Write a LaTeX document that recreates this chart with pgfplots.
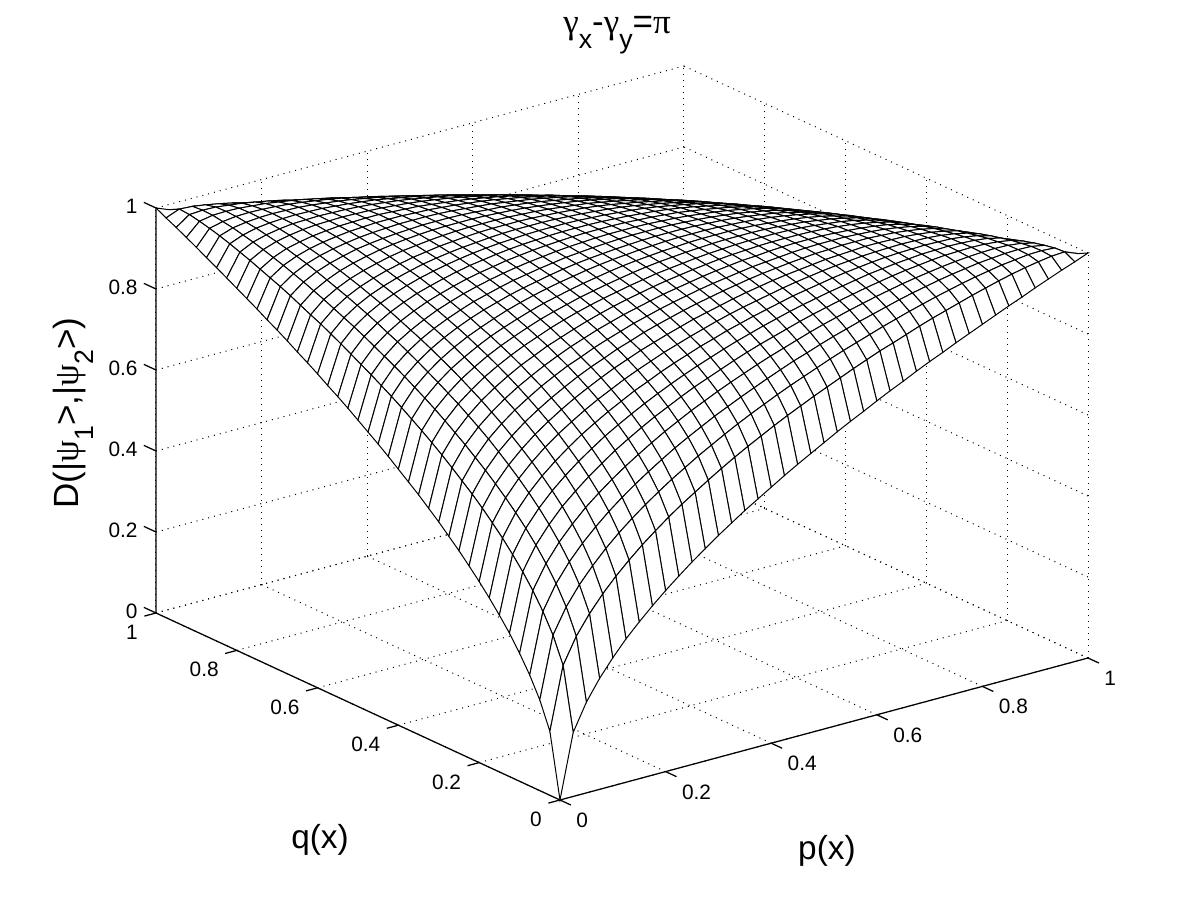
\documentclass[border=0pt]{standalone}
\usepackage{fontspec}
\setmainfont{Liberation Sans}
\newfontfamily\sym{Liberation Serif}
\usepackage{pgfplots}
\pgfplotsset{compat=1.18}
\newcommand{\lowsub}[1]{\raisebox{-9.5pt}{\fontsize{16}{16}\selectfont #1}}
\begin{document}
\begin{tikzpicture}[line width=0.6pt]
\path[use as bounding box] (-336pt,-60pt) rectangle (384pt,480pt);
\begin{axis}[
  at={(0pt,0pt)},anchor=origin,
  x={(7.92pt,2.13pt)},y={(-6.06pt,2.805pt)},z={(0pt,243pt)},
  xmin=0,xmax=40,ymin=0,ymax=40,zmin=0,zmax=1,
  xtick={0,8,...,40},ytick={0,8,...,40},ztick={0,0.2,0.4,0.6,0.8,1},
  xticklabels={0,0.2,0.4,0.6,0.8,1},yticklabels={0,0.2,0.4,0.6,0.8,1},zticklabels={0,0.2,0.4,0.6,0.8,1},
  grid=major,grid style={black,line width=0.6pt,dash pattern=on 0.6pt off 3pt},
  axis line style={draw=none},
  tick style={draw=none},tick align=outside,major tick length=7pt,
  ticklabel style={font=\fontsize{12.5}{14}\selectfont},
  xticklabel style={anchor=west,xshift=0pt,yshift=-9.2pt},
  yticklabel style={anchor=east,xshift=-0.6pt,yshift=-9.8pt},
  zticklabel style={anchor=east,xshift=-1.2pt,yshift=-2pt},
  clip=false,
  title={{\sym γ}\lowsub{x}-{\sym γ}\lowsub{y}={\sym π}},
  title style={at={(axis cs:82.12,101.68,0)},anchor=base,yshift=-6pt,font=\fontsize{21}{24}\selectfont},
  xlabel={p(x)},ylabel={q(x)},
  zlabel={D(|{\sym ψ}\lowsub{1}>,|{\sym ψ}\lowsub{2}>)},
  every axis x label/.style={at={(axis cs:7.52,-16.6,0)},anchor=center,font=\fontsize{20}{24}\selectfont},
  every axis y label/.style={at={(axis cs:-15.64,3.32,0)},anchor=center,font=\fontsize{20}{24}\selectfont},
  every axis z label/.style={at={(axis cs:0,47.72,.405)},anchor=base,rotate=90,font=\fontsize{21}{24}\selectfont},
]
\addplot3[black,forget plot,line width=0.75pt] coordinates {(0,40,1)(0,40,0)(0,0,0)(40,0,0)};
\draw[black,line width=0.75pt]
  (axis cs:0,0,0)--(axis cs:0,-1.08,0) (axis cs:8,0,0)--(axis cs:8,-1.08,0) (axis cs:16,0,0)--(axis cs:16,-1.08,0)
  (axis cs:24,0,0)--(axis cs:24,-1.08,0) (axis cs:32,0,0)--(axis cs:32,-1.08,0) (axis cs:40,0,0)--(axis cs:40,-1.08,0)
  (axis cs:0,0,0)--(axis cs:-.88,0,0) (axis cs:0,8,0)--(axis cs:-.88,8,0) (axis cs:0,16,0)--(axis cs:-.88,16,0)
  (axis cs:0,24,0)--(axis cs:-.88,24,0) (axis cs:0,32,0)--(axis cs:-.88,32,0) (axis cs:0,40,0)--(axis cs:-.88,40,0)
  (axis cs:0,40,0)--(axis cs:0,41.2,0) (axis cs:0,40,.2)--(axis cs:0,41.2,.2) (axis cs:0,40,.4)--(axis cs:0,41.2,.4)
  (axis cs:0,40,.6)--(axis cs:0,41.2,.6) (axis cs:0,40,.8)--(axis cs:0,41.2,.8) (axis cs:0,40,1)--(axis cs:0,41.2,1);
\addplot3[surf,mesh/cols=41,z buffer=none,shader=faceted,faceted color=black,
  colormap={w}{color=(white) color=(white)},line width=0.6pt] table[x=i,y=j,z=D] {
i j D
40 40 0
39 40 .158
38 40 .224
37 40 .274
36 40 .316
35 40 .354
34 40 .387
33 40 .418
32 40 .447
31 40 .474
30 40 .5
29 40 .524
28 40 .548
27 40 .57
26 40 .592
25 40 .612
24 40 .632
23 40 .652
22 40 .671
21 40 .689
20 40 .707
19 40 .725
18 40 .742
17 40 .758
16 40 .775
15 40 .791
14 40 .806
13 40 .822
12 40 .837
11 40 .851
10 40 .866
9 40 .88
8 40 .894
7 40 .908
6 40 .922
5 40 .935
4 40 .949
3 40 .962
2 40 .975
1 40 .987
0 40 1
40 39 .158
39 39 .312
38 39 .375
37 39 .422
36 39 .462
35 39 .497
34 39 .528
33 39 .557
32 39 .583
31 39 .608
30 39 .631
29 39 .652
28 39 .673
27 39 .693
26 39 .712
25 39 .73
24 39 .747
23 39 .764
22 39 .78
21 39 .795
20 39 .81
19 39 .824
18 39 .838
17 39 .852
16 39 .865
15 39 .878
14 39 .889
13 39 .901
12 39 .913
11 39 .924
10 39 .934
9 39 .944
8 39 .954
7 39 .963
6 39 .972
5 39 .98
4 39 .987
3 39 .993
2 39 .998
1 39 1
0 39 .987
40 38 .224
39 38 .375
38 38 .436
37 38 .482
36 38 .52
35 38 .554
34 38 .584
33 38 .611
32 38 .636
31 38 .659
30 38 .681
29 38 .701
28 38 .721
27 38 .739
26 38 .757
25 38 .774
24 38 .79
23 38 .805
22 38 .82
21 38 .834
20 38 .847
19 38 .86
18 38 .873
17 38 .885
16 38 .896
15 38 .907
14 38 .918
13 38 .928
12 38 .938
11 38 .947
10 38 .956
9 38 .964
8 38 .972
7 38 .979
6 38 .985
5 38 .991
4 38 .995
3 38 .999
2 38 1
1 38 .998
0 38 .975
40 37 .274
39 37 .422
38 37 .482
37 37 .527
36 37 .564
35 37 .596
34 37 .625
33 37 .651
32 37 .675
31 37 .697
30 37 .718
29 37 .738
28 37 .756
27 37 .773
26 37 .79
25 37 .805
24 37 .82
23 37 .834
22 37 .848
21 37 .861
20 37 .874
19 37 .885
18 37 .897
17 37 .908
16 37 .918
15 37 .928
14 37 .937
13 37 .946
12 37 .955
11 37 .963
10 37 .97
9 37 .977
8 37 .983
7 37 .988
6 37 .993
5 37 .996
4 37 .999
3 37 1
2 37 .999
1 37 .993
0 37 .962
40 36 .316
39 36 .462
38 36 .52
37 36 .564
36 36 .6
35 36 .632
34 36 .659
33 36 .684
32 36 .707
31 36 .728
30 36 .748
29 36 .767
28 36 .784
27 36 .801
26 36 .816
25 36 .831
24 36 .845
23 36 .858
22 36 .871
21 36 .883
20 36 .894
19 36 .905
18 36 .916
17 36 .926
16 36 .935
15 36 .944
14 36 .952
13 36 .96
12 36 .967
11 36 .974
10 36 .98
9 36 .985
8 36 .99
7 36 .994
6 36 .997
5 36 .999
4 36 1
3 36 .999
2 36 .995
1 36 .987
0 36 .949
40 35 .354
39 35 .497
38 35 .554
37 35 .596
36 35 .632
35 35 .661
34 35 .688
33 35 .712
32 35 .735
31 35 .755
30 35 .774
29 35 .792
28 35 .808
27 35 .824
26 35 .839
25 35 .852
24 35 .865
23 35 .878
22 35 .89
21 35 .901
20 35 .911
19 35 .921
18 35 .931
17 35 .94
16 35 .948
15 35 .956
14 35 .963
13 35 .97
12 35 .976
11 35 .982
10 35 .987
9 35 .991
8 35 .995
7 35 .998
6 35 .999
5 35 1
4 35 .999
3 35 .996
2 35 .991
1 35 .98
0 35 .935
40 34 .387
39 34 .528
38 34 .584
37 34 .625
36 34 .659
35 34 .688
34 34 .714
33 34 .737
32 34 .759
31 34 .778
30 34 .796
29 34 .813
28 34 .829
27 34 .844
26 34 .858
25 34 .871
24 34 .883
23 34 .895
22 34 .906
21 34 .916
20 34 .926
19 34 .935
18 34 .944
17 34 .952
16 34 .959
15 34 .966
14 34 .972
13 34 .978
12 34 .984
11 34 .988
10 34 .992
9 34 .995
8 34 .998
7 34 .999
6 34 1
5 34 .999
4 34 .997
3 34 .993
2 34 .985
1 34 .972
0 34 .922
40 33 .418
39 33 .557
38 33 .611
37 33 .651
36 33 .684
35 33 .712
34 33 .737
33 33 .76
32 33 .78
31 33 .799
30 33 .816
29 33 .833
28 33 .847
27 33 .862
26 33 .875
25 33 .887
24 33 .899
23 33 .909
22 33 .92
21 33 .929
20 33 .938
19 33 .946
18 33 .954
17 33 .962
16 33 .968
15 33 .974
14 33 .98
13 33 .985
12 33 .989
11 33 .993
10 33 .996
9 33 .998
8 33 .999
7 33 1
6 33 .999
5 33 .998
4 33 .994
3 33 .988
2 33 .979
1 33 .963
0 33 .908
40 32 .447
39 32 .583
38 32 .636
37 32 .675
36 32 .707
35 32 .735
34 32 .759
33 32 .78
32 32 .8
31 32 .818
30 32 .834
29 32 .85
28 32 .864
27 32 .877
26 32 .89
25 32 .901
24 32 .912
23 32 .922
22 32 .932
21 32 .941
20 32 .949
19 32 .956
18 32 .963
17 32 .97
16 32 .976
15 32 .981
14 32 .986
13 32 .99
12 32 .993
11 32 .996
10 32 .998
9 32 .999
8 32 1
7 32 .999
6 32 .998
5 32 .995
4 32 .99
3 32 .983
2 32 .972
1 32 .954
0 32 .894
40 31 .474
39 31 .608
38 31 .659
37 31 .697
36 31 .728
35 31 .755
34 31 .778
33 31 .799
32 31 .818
31 31 .835
30 31 .851
29 31 .866
28 31 .879
27 31 .892
26 31 .903
25 31 .914
24 31 .924
23 31 .934
22 31 .942
21 31 .95
20 31 .958
19 31 .965
18 31 .971
17 31 .977
16 31 .982
15 31 .986
14 31 .99
13 31 .994
12 31 .996
11 31 .998
10 31 1
9 31 1
8 31 .999
7 31 .998
6 31 .995
5 31 .991
4 31 .985
3 31 .977
2 31 .964
1 31 .944
0 31 .88
40 30 .5
39 30 .631
38 30 .681
37 30 .718
36 30 .748
35 30 .774
34 30 .796
33 30 .816
32 30 .834
31 30 .851
30 30 .866
29 30 .879
28 30 .893
27 30 .904
26 30 .916
25 30 .926
24 30 .935
23 30 .944
22 30 .952
21 30 .959
20 30 .966
19 30 .972
18 30 .978
17 30 .983
16 30 .987
15 30 .991
14 30 .994
13 30 .997
12 30 .998
11 30 1
10 30 1
9 30 1
8 30 .998
7 30 .996
6 30 .992
5 30 .987
4 30 .98
3 30 .97
2 30 .956
1 30 .934
0 30 .866
40 29 .524
39 29 .652
38 29 .701
37 29 .738
36 29 .767
35 29 .792
34 29 .813
33 29 .833
32 29 .85
31 29 .866
30 29 .879
29 29 .893
28 29 .905
27 29 .916
26 29 .927
25 29 .936
24 29 .945
23 29 .953
22 29 .96
21 29 .967
20 29 .973
19 29 .978
18 29 .983
17 29 .988
16 29 .991
15 29 .994
14 29 .997
13 29 .999
12 29 1
11 29 1
10 29 1
9 29 .998
8 29 .996
7 29 .993
6 29 .988
5 29 .982
4 29 .974
3 29 .963
2 29 .947
1 29 .924
0 29 .851
40 28 .548
39 28 .673
38 28 .721
37 28 .756
36 28 .784
35 28 .808
34 28 .829
33 28 .847
32 28 .864
31 28 .879
30 28 .893
29 28 .905
28 28 .917
27 28 .927
26 28 .937
25 28 .945
24 28 .953
23 28 .961
22 28 .967
21 28 .973
20 28 .979
19 28 .984
18 28 .988
17 28 .992
16 28 .994
15 28 .997
14 28 .999
13 28 1
12 28 1
11 28 1
10 28 .998
9 28 .996
8 28 .993
7 28 .989
6 28 .984
5 28 .976
4 28 .967
3 28 .955
2 28 .938
1 28 .913
0 28 .837
40 27 .57
39 27 .693
38 27 .739
37 27 .773
36 27 .801
35 27 .824
34 27 .844
33 27 .862
32 27 .877
31 27 .892
30 27 .904
29 27 .916
28 27 .927
27 27 .937
26 27 .946
25 27 .954
24 27 .961
23 27 .968
22 27 .974
21 27 .979
20 27 .984
19 27 .988
18 27 .992
17 27 .995
16 27 .997
15 27 .999
14 27 1
13 27 1
12 27 1
11 27 .999
10 27 .997
9 27 .994
8 27 .99
7 27 .985
6 27 .978
5 27 .97
4 27 .96
3 27 .946
2 27 .928
1 27 .901
0 27 .822
40 26 .592
39 26 .712
38 26 .757
37 26 .79
36 26 .816
35 26 .839
34 26 .858
33 26 .875
32 26 .89
31 26 .903
30 26 .916
29 26 .927
28 26 .937
27 26 .946
26 26 .954
25 26 .961
24 26 .968
23 26 .974
22 26 .98
21 26 .984
20 26 .988
19 26 .992
18 26 .995
17 26 .997
16 26 .999
15 26 1
14 26 1
13 26 1
12 26 .999
11 26 .997
10 26 .994
9 26 .99
8 26 .986
7 26 .98
6 26 .972
5 26 .963
4 26 .952
3 26 .937
2 26 .918
1 26 .889
0 26 .806
40 25 .612
39 25 .73
38 25 .774
37 25 .805
36 25 .831
35 25 .852
34 25 .871
33 25 .887
32 25 .901
31 25 .914
30 25 .926
29 25 .936
28 25 .945
27 25 .954
26 25 .961
25 25 .968
24 25 .974
23 25 .98
22 25 .985
21 25 .989
20 25 .992
19 25 .995
18 25 .997
17 25 .999
16 25 1
15 25 1
14 25 1
13 25 .999
12 25 .997
11 25 .994
10 25 .991
9 25 .986
8 25 .981
7 25 .974
6 25 .966
5 25 .956
4 25 .944
3 25 .928
2 25 .907
1 25 .878
0 25 .791
40 24 .632
39 24 .747
38 24 .79
37 24 .82
36 24 .845
35 24 .865
34 24 .883
33 24 .899
32 24 .912
31 24 .924
30 24 .935
29 24 .945
28 24 .953
27 24 .961
26 24 .968
25 24 .974
24 24 .98
23 24 .985
22 24 .989
21 24 .992
20 24 .995
19 24 .997
18 24 .999
17 24 1
16 24 1
15 24 1
14 24 .999
13 24 .997
12 24 .994
11 24 .991
10 24 .987
9 24 .982
8 24 .976
7 24 .968
6 24 .959
5 24 .948
4 24 .935
3 24 .918
2 24 .896
1 24 .865
0 24 .775
40 23 .652
39 23 .764
38 23 .805
37 23 .834
36 23 .858
35 23 .878
34 23 .895
33 23 .909
32 23 .922
31 23 .934
30 23 .944
29 23 .953
28 23 .961
27 23 .968
26 23 .974
25 23 .98
24 23 .985
23 23 .989
22 23 .992
21 23 .995
20 23 .997
19 23 .999
18 23 1
17 23 1
16 23 1
15 23 .999
14 23 .997
13 23 .995
12 23 .992
11 23 .988
10 23 .983
9 23 .977
8 23 .97
7 23 .962
6 23 .952
5 23 .94
4 23 .926
3 23 .908
2 23 .885
1 23 .852
0 23 .758
40 22 .671
39 22 .78
38 22 .82
37 22 .848
36 22 .871
35 22 .89
34 22 .906
33 22 .92
32 22 .932
31 22 .942
30 22 .952
29 22 .96
28 22 .967
27 22 .974
26 22 .98
25 22 .985
24 22 .989
23 22 .992
22 22 .995
21 22 .997
20 22 .999
19 22 1
18 22 1
17 22 1
16 22 .999
15 22 .997
14 22 .995
13 22 .992
12 22 .988
11 22 .983
10 22 .978
9 22 .971
8 22 .963
7 22 .954
6 22 .944
5 22 .931
4 22 .916
3 22 .897
2 22 .873
1 22 .838
0 22 .742
40 21 .689
39 21 .795
38 21 .834
37 21 .861
36 21 .883
35 21 .901
34 21 .916
33 21 .929
32 21 .941
31 21 .95
30 21 .959
29 21 .967
28 21 .973
27 21 .979
26 21 .984
25 21 .989
24 21 .992
23 21 .995
22 21 .997
21 21 .999
20 21 1
19 21 1
18 21 1
17 21 .999
16 21 .997
15 21 .995
14 21 .992
13 21 .988
12 21 .984
11 21 .978
10 21 .972
9 21 .965
8 21 .956
7 21 .946
6 21 .935
5 21 .921
4 21 .905
3 21 .885
2 21 .86
1 21 .824
0 21 .725
40 20 .707
39 20 .81
38 20 .847
37 20 .874
36 20 .894
35 20 .911
34 20 .926
33 20 .938
32 20 .949
31 20 .958
30 20 .966
29 20 .973
28 20 .979
27 20 .984
26 20 .988
25 20 .992
24 20 .995
23 20 .997
22 20 .999
21 20 1
20 20 1
19 20 1
18 20 .999
17 20 .997
16 20 .995
15 20 .992
14 20 .988
13 20 .984
12 20 .979
11 20 .973
10 20 .966
9 20 .958
8 20 .949
7 20 .938
6 20 .926
5 20 .911
4 20 .894
3 20 .874
2 20 .847
1 20 .81
0 20 .707
40 19 .725
39 19 .824
38 19 .86
37 19 .885
36 19 .905
35 19 .921
34 19 .935
33 19 .946
32 19 .956
31 19 .965
30 19 .972
29 19 .978
28 19 .984
27 19 .988
26 19 .992
25 19 .995
24 19 .997
23 19 .999
22 19 1
21 19 1
20 19 1
19 19 .999
18 19 .997
17 19 .995
16 19 .992
15 19 .989
14 19 .984
13 19 .979
12 19 .973
11 19 .967
10 19 .959
9 19 .95
8 19 .941
7 19 .929
6 19 .916
5 19 .901
4 19 .883
3 19 .861
2 19 .834
1 19 .795
0 19 .689
40 18 .742
39 18 .838
38 18 .873
37 18 .897
36 18 .916
35 18 .931
34 18 .944
33 18 .954
32 18 .963
31 18 .971
30 18 .978
29 18 .983
28 18 .988
27 18 .992
26 18 .995
25 18 .997
24 18 .999
23 18 1
22 18 1
21 18 1
20 18 .999
19 18 .997
18 18 .995
17 18 .992
16 18 .989
15 18 .985
14 18 .98
13 18 .974
12 18 .967
11 18 .96
10 18 .952
9 18 .942
8 18 .932
7 18 .92
6 18 .906
5 18 .89
4 18 .871
3 18 .848
2 18 .82
1 18 .78
0 18 .671
40 17 .758
39 17 .852
38 17 .885
37 17 .908
36 17 .926
35 17 .94
34 17 .952
33 17 .962
32 17 .97
31 17 .977
30 17 .983
29 17 .988
28 17 .992
27 17 .995
26 17 .997
25 17 .999
24 17 1
23 17 1
22 17 1
21 17 .999
20 17 .997
19 17 .995
18 17 .992
17 17 .989
16 17 .985
15 17 .98
14 17 .974
13 17 .968
12 17 .961
11 17 .953
10 17 .944
9 17 .934
8 17 .922
7 17 .909
6 17 .895
5 17 .878
4 17 .858
3 17 .834
2 17 .805
1 17 .764
0 17 .652
40 16 .775
39 16 .865
38 16 .896
37 16 .918
36 16 .935
35 16 .948
34 16 .959
33 16 .968
32 16 .976
31 16 .982
30 16 .987
29 16 .991
28 16 .994
27 16 .997
26 16 .999
25 16 1
24 16 1
23 16 1
22 16 .999
21 16 .997
20 16 .995
19 16 .992
18 16 .989
17 16 .985
16 16 .98
15 16 .974
14 16 .968
13 16 .961
12 16 .953
11 16 .945
10 16 .935
9 16 .924
8 16 .912
7 16 .899
6 16 .883
5 16 .865
4 16 .845
3 16 .82
2 16 .79
1 16 .747
0 16 .632
40 15 .791
39 15 .878
38 15 .907
37 15 .928
36 15 .944
35 15 .956
34 15 .966
33 15 .974
32 15 .981
31 15 .986
30 15 .991
29 15 .994
28 15 .997
27 15 .999
26 15 1
25 15 1
24 15 1
23 15 .999
22 15 .997
21 15 .995
20 15 .992
19 15 .989
18 15 .985
17 15 .98
16 15 .974
15 15 .968
14 15 .961
13 15 .954
12 15 .945
11 15 .936
10 15 .926
9 15 .914
8 15 .901
7 15 .887
6 15 .871
5 15 .852
4 15 .831
3 15 .805
2 15 .774
1 15 .73
0 15 .612
40 14 .806
39 14 .889
38 14 .918
37 14 .937
36 14 .952
35 14 .963
34 14 .972
33 14 .98
32 14 .986
31 14 .99
30 14 .994
29 14 .997
28 14 .999
27 14 1
26 14 1
25 14 1
24 14 .999
23 14 .997
22 14 .995
21 14 .992
20 14 .988
19 14 .984
18 14 .98
17 14 .974
16 14 .968
15 14 .961
14 14 .954
13 14 .946
12 14 .937
11 14 .927
10 14 .916
9 14 .903
8 14 .89
7 14 .875
6 14 .858
5 14 .839
4 14 .816
3 14 .79
2 14 .757
1 14 .712
0 14 .592
40 13 .822
39 13 .901
38 13 .928
37 13 .946
36 13 .96
35 13 .97
34 13 .978
33 13 .985
32 13 .99
31 13 .994
30 13 .997
29 13 .999
28 13 1
27 13 1
26 13 1
25 13 .999
24 13 .997
23 13 .995
22 13 .992
21 13 .988
20 13 .984
19 13 .979
18 13 .974
17 13 .968
16 13 .961
15 13 .954
14 13 .946
13 13 .937
12 13 .927
11 13 .916
10 13 .904
9 13 .892
8 13 .877
7 13 .862
6 13 .844
5 13 .824
4 13 .801
3 13 .773
2 13 .739
1 13 .693
0 13 .57
40 12 .837
39 12 .913
38 12 .938
37 12 .955
36 12 .967
35 12 .976
34 12 .984
33 12 .989
32 12 .993
31 12 .996
30 12 .998
29 12 1
28 12 1
27 12 1
26 12 .999
25 12 .997
24 12 .994
23 12 .992
22 12 .988
21 12 .984
20 12 .979
19 12 .973
18 12 .967
17 12 .961
16 12 .953
15 12 .945
14 12 .937
13 12 .927
12 12 .917
11 12 .905
10 12 .893
9 12 .879
8 12 .864
7 12 .847
6 12 .829
5 12 .808
4 12 .784
3 12 .756
2 12 .721
1 12 .673
0 12 .548
40 11 .851
39 11 .924
38 11 .947
37 11 .963
36 11 .974
35 11 .982
34 11 .988
33 11 .993
32 11 .996
31 11 .998
30 11 1
29 11 1
28 11 1
27 11 .999
26 11 .997
25 11 .994
24 11 .991
23 11 .988
22 11 .983
21 11 .978
20 11 .973
19 11 .967
18 11 .96
17 11 .953
16 11 .945
15 11 .936
14 11 .927
13 11 .916
12 11 .905
11 11 .893
10 11 .879
9 11 .866
8 11 .85
7 11 .833
6 11 .813
5 11 .792
4 11 .767
3 11 .738
2 11 .701
1 11 .652
0 11 .524
40 10 .866
39 10 .934
38 10 .956
37 10 .97
36 10 .98
35 10 .987
34 10 .992
33 10 .996
32 10 .998
31 10 1
30 10 1
29 10 1
28 10 .998
27 10 .997
26 10 .994
25 10 .991
24 10 .987
23 10 .983
22 10 .978
21 10 .972
20 10 .966
19 10 .959
18 10 .952
17 10 .944
16 10 .935
15 10 .926
14 10 .916
13 10 .904
12 10 .893
11 10 .879
10 10 .866
9 10 .851
8 10 .834
7 10 .816
6 10 .796
5 10 .774
4 10 .748
3 10 .718
2 10 .681
1 10 .631
0 10 .5
40 9 .88
39 9 .944
38 9 .964
37 9 .977
36 9 .985
35 9 .991
34 9 .995
33 9 .998
32 9 .999
31 9 1
30 9 1
29 9 .998
28 9 .996
27 9 .994
26 9 .99
25 9 .986
24 9 .982
23 9 .977
22 9 .971
21 9 .965
20 9 .958
19 9 .95
18 9 .942
17 9 .934
16 9 .924
15 9 .914
14 9 .903
13 9 .892
12 9 .879
11 9 .866
10 9 .851
9 9 .835
8 9 .818
7 9 .799
6 9 .778
5 9 .755
4 9 .728
3 9 .697
2 9 .659
1 9 .608
0 9 .474
40 8 .894
39 8 .954
38 8 .972
37 8 .983
36 8 .99
35 8 .995
34 8 .998
33 8 .999
32 8 1
31 8 .999
30 8 .998
29 8 .996
28 8 .993
27 8 .99
26 8 .986
25 8 .981
24 8 .976
23 8 .97
22 8 .963
21 8 .956
20 8 .949
19 8 .941
18 8 .932
17 8 .922
16 8 .912
15 8 .901
14 8 .89
13 8 .877
12 8 .864
11 8 .85
10 8 .834
9 8 .818
8 8 .8
7 8 .78
6 8 .759
5 8 .735
4 8 .707
3 8 .675
2 8 .636
1 8 .583
0 8 .447
40 7 .908
39 7 .963
38 7 .979
37 7 .988
36 7 .994
35 7 .998
34 7 .999
33 7 1
32 7 .999
31 7 .998
30 7 .996
29 7 .993
28 7 .989
27 7 .985
26 7 .98
25 7 .974
24 7 .968
23 7 .962
22 7 .954
21 7 .946
20 7 .938
19 7 .929
18 7 .92
17 7 .909
16 7 .899
15 7 .887
14 7 .875
13 7 .862
12 7 .847
11 7 .833
10 7 .816
9 7 .799
8 7 .78
7 7 .76
6 7 .737
5 7 .712
4 7 .684
3 7 .651
2 7 .611
1 7 .557
0 7 .418
40 6 .922
39 6 .972
38 6 .985
37 6 .993
36 6 .997
35 6 .999
34 6 1
33 6 .999
32 6 .998
31 6 .995
30 6 .992
29 6 .988
28 6 .984
27 6 .978
26 6 .972
25 6 .966
24 6 .959
23 6 .952
22 6 .944
21 6 .935
20 6 .926
19 6 .916
18 6 .906
17 6 .895
16 6 .883
15 6 .871
14 6 .858
13 6 .844
12 6 .829
11 6 .813
10 6 .796
9 6 .778
8 6 .759
7 6 .737
6 6 .714
5 6 .688
4 6 .659
3 6 .625
2 6 .584
1 6 .528
0 6 .387
40 5 .935
39 5 .98
38 5 .991
37 5 .996
36 5 .999
35 5 1
34 5 .999
33 5 .998
32 5 .995
31 5 .991
30 5 .987
29 5 .982
28 5 .976
27 5 .97
26 5 .963
25 5 .956
24 5 .948
23 5 .94
22 5 .931
21 5 .921
20 5 .911
19 5 .901
18 5 .89
17 5 .878
16 5 .865
15 5 .852
14 5 .839
13 5 .824
12 5 .808
11 5 .792
10 5 .774
9 5 .755
8 5 .735
7 5 .712
6 5 .688
5 5 .661
4 5 .632
3 5 .596
2 5 .554
1 5 .497
0 5 .354
40 4 .949
39 4 .987
38 4 .995
37 4 .999
36 4 1
35 4 .999
34 4 .997
33 4 .994
32 4 .99
31 4 .985
30 4 .98
29 4 .974
28 4 .967
27 4 .96
26 4 .952
25 4 .944
24 4 .935
23 4 .926
22 4 .916
21 4 .905
20 4 .894
19 4 .883
18 4 .871
17 4 .858
16 4 .845
15 4 .831
14 4 .816
13 4 .801
12 4 .784
11 4 .767
10 4 .748
9 4 .728
8 4 .707
7 4 .684
6 4 .659
5 4 .632
4 4 .6
3 4 .564
2 4 .52
1 4 .462
0 4 .316
40 3 .962
39 3 .993
38 3 .999
37 3 1
36 3 .999
35 3 .996
34 3 .993
33 3 .988
32 3 .983
31 3 .977
30 3 .97
29 3 .963
28 3 .955
27 3 .946
26 3 .937
25 3 .928
24 3 .918
23 3 .908
22 3 .897
21 3 .885
20 3 .874
19 3 .861
18 3 .848
17 3 .834
16 3 .82
15 3 .805
14 3 .79
13 3 .773
12 3 .756
11 3 .738
10 3 .718
9 3 .697
8 3 .675
7 3 .651
6 3 .625
5 3 .596
4 3 .564
3 3 .527
2 3 .482
1 3 .422
0 3 .274
40 2 .975
39 2 .998
38 2 1
37 2 .999
36 2 .995
35 2 .991
34 2 .985
33 2 .979
32 2 .972
31 2 .964
30 2 .956
29 2 .947
28 2 .938
27 2 .928
26 2 .918
25 2 .907
24 2 .896
23 2 .885
22 2 .873
21 2 .86
20 2 .847
19 2 .834
18 2 .82
17 2 .805
16 2 .79
15 2 .774
14 2 .757
13 2 .739
12 2 .721
11 2 .701
10 2 .681
9 2 .659
8 2 .636
7 2 .611
6 2 .584
5 2 .554
4 2 .52
3 2 .482
2 2 .436
1 2 .375
0 2 .224
40 1 .987
39 1 1
38 1 .998
37 1 .993
36 1 .987
35 1 .98
34 1 .972
33 1 .963
32 1 .954
31 1 .944
30 1 .934
29 1 .924
28 1 .913
27 1 .901
26 1 .889
25 1 .878
24 1 .865
23 1 .852
22 1 .838
21 1 .824
20 1 .81
19 1 .795
18 1 .78
17 1 .764
16 1 .747
15 1 .73
14 1 .712
13 1 .693
12 1 .673
11 1 .652
10 1 .631
9 1 .608
8 1 .583
7 1 .557
6 1 .528
5 1 .497
4 1 .462
3 1 .422
2 1 .375
1 1 .312
0 1 .158
40 0 1
39 0 .987
38 0 .975
37 0 .962
36 0 .949
35 0 .935
34 0 .922
33 0 .908
32 0 .894
31 0 .88
30 0 .866
29 0 .851
28 0 .837
27 0 .822
26 0 .806
25 0 .791
24 0 .775
23 0 .758
22 0 .742
21 0 .725
20 0 .707
19 0 .689
18 0 .671
17 0 .652
16 0 .632
15 0 .612
14 0 .592
13 0 .57
12 0 .548
11 0 .524
10 0 .5
9 0 .474
8 0 .447
7 0 .418
6 0 .387
5 0 .354
4 0 .316
3 0 .274
2 0 .224
1 0 .158
0 0 0
};
\end{axis}
\end{tikzpicture}
\end{document}
